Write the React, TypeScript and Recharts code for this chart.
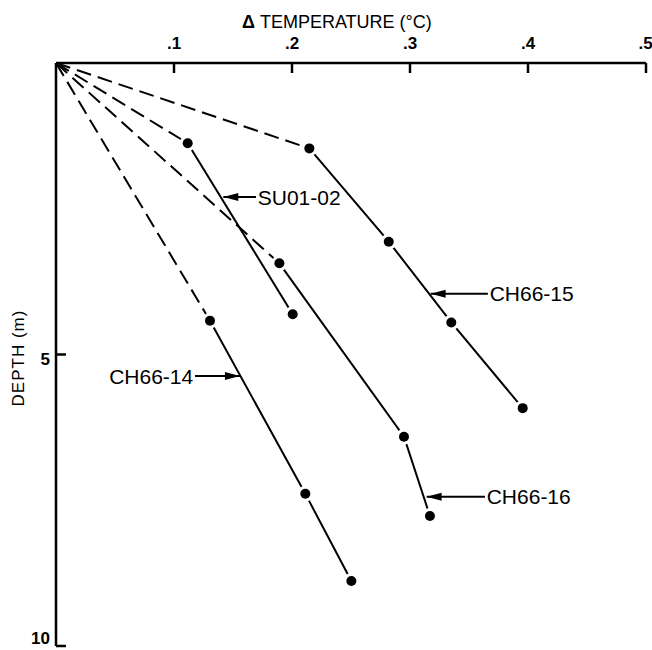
import React from "react";
import {
  ComposedChart,
  Line,
  XAxis,
  YAxis,
  ReferenceLine,
  ReferenceDot,
} from "recharts";

// borehole profiles: temperature change (°C) vs depth (m)
const ch6615X = [0.2147, 0.282, 0.335, 0.3955];
const ch6615Y = [1.465, 3.065, 4.45, 5.92];
const su0102X = [0.1116, 0.2006];
const su0102Y = [1.377, 4.31];
const ch6616X = [0.1893, 0.2949, 0.3169];
const ch6616Y = [3.436, 6.41, 7.77];
const ch6614X = [0.1305, 0.2113, 0.2503];
const ch6614Y = [4.42, 7.39, 8.885];

const xTicks = [0.1, 0.2, 0.3, 0.4, 0.5];
const yTicks = [5, 10];

// label, arrow tip (on the line), arrow tail / text start, depth
const labelNames = ["SU01-02", "CH66-15", "CH66-14", "CH66-16"];
const labelTipX = [0.1418, 0.3175, 0.1559, 0.3141];
const labelTailX = [0.1695, 0.366, 0.1178, 0.3635];
const labelY = [2.3, 3.96, 5.37, 7.44];

const series = [
  { name: "CH66-15", xs: ch6615X, ys: ch6615Y },
  { name: "SU01-02", xs: su0102X, ys: su0102Y },
  { name: "CH66-16", xs: ch6616X, ys: ch6616Y },
  { name: "CH66-14", xs: ch6614X, ys: ch6614Y },
].map((s) => {
  const pts = s.xs.map((x, i) => ({ x, y: s.ys[i] }));
  return { name: s.name, pts, dashed: [{ x: 0, y: 0 }, pts[0]] };
});

const FONT = "'Liberation Sans', Arial, Helvetica, sans-serif";

const renderDot = (p: any) => (
  <g key={`d-${p.index}-${p.cx}`}>
    <circle cx={p.cx} cy={p.cy} r={8} fill="#fff" />
    <circle cx={p.cx} cy={p.cy} r={5} fill="#000" />
  </g>
);

const arrowHead = (dir: number) => (p: any) => (
  <polygon
    points={`${p.cx},${p.cy} ${p.cx + dir * 15},${p.cy - 4} ${p.cx + dir * 15},${p.cy + 4}`}
    fill="#000"
  />
);

const labelText = (name: string, anchor: string) => (p: any) => (
  <text
    x={p.cx}
    y={p.cy}
    dy="0.36em"
    textAnchor={anchor}
    fontSize={21}
    fontFamily={FONT}
    fill="#000"
  >
    {name}
  </text>
);

// depth tick labels; the bottom one sits low against the page edge
const DepthTick = (p: any) => (
  <text
    x={p.x}
    y={p.y}
    dy={p.payload.value === 10 ? 3 : 10}
    textAnchor="end"
    fontSize={17}
    fontWeight="bold"
    fontFamily={FONT}
    fill="#000"
  >
    {p.payload.value}
  </text>
);

export default function App() {
  return (
    <div
      style={{
        position: "absolute",
        left: 0,
        top: 0,
        width: 652,
        height: 650,
        background: "#fff",
        fontFamily: FONT,
      }}
    >
      <div
        style={{
          position: "absolute",
          left: 242,
          top: 12,
          fontSize: 18,
          whiteSpace: "nowrap",
          color: "#000",
        }}
      >
        <b>Δ</b> TEMPERATURE (°C)
      </div>
      <div
        style={{
          position: "absolute",
          left: 19,
          top: 358,
          fontSize: 17,
          letterSpacing: 1,
          whiteSpace: "nowrap",
          transform: "translate(-50%, -50%) rotate(-90deg)",
          color: "#000",
        }}
      >
        DEPTH (m)
      </div>
      <ComposedChart
        width={652}
        height={650}
        margin={{ top: 33, right: 6, left: 16, bottom: 4 }}
      >
        <XAxis
          dataKey="x"
          type="number"
          orientation="top"
          height={30}
          domain={[0, 0.5]}
          ticks={xTicks}
          tickFormatter={(v: number) => "." + Math.round(v * 10)}
          tickSize={-10}
          tickMargin={24}
          axisLine={{ stroke: "#000", strokeWidth: 2.5 }}
          tickLine={{ stroke: "#000", strokeWidth: 2.5 }}
          tick={{ fill: "#000", fontSize: 17, fontWeight: "bold", fontFamily: FONT }}
          allowDataOverflow
        />
        <YAxis
          dataKey="y"
          type="number"
          width={40}
          domain={[0, 10]}
          reversed
          ticks={yTicks}
          tickSize={-10}
          tickMargin={16}
          axisLine={{ stroke: "#000", strokeWidth: 2.5 }}
          tickLine={{ stroke: "#000", strokeWidth: 2.5 }}
          tick={<DepthTick />}
          allowDataOverflow
        />
        {series.map((s) => (
          <Line
            key={s.name + "-d"}
            data={s.dashed}
            dataKey="y"
            type="linear"
            stroke="#000"
            strokeWidth={2}
            strokeDasharray="15 7"
            dot={false}
            activeDot={false}
            isAnimationActive={false}
          />
        ))}
        {series.map((s) => (
          <Line
            key={s.name + "-s"}
            data={s.pts}
            dataKey="y"
            type="linear"
            stroke="#000"
            strokeWidth={2}
            dot={renderDot}
            activeDot={false}
            isAnimationActive={false}
          />
        ))}
        {labelNames.map((name, i) => (
          <ReferenceLine
            key={name + "-a"}
            segment={[
              { x: labelTipX[i], y: labelY[i] },
              { x: labelTailX[i], y: labelY[i] },
            ]}
            stroke="#000"
            strokeWidth={2}
          />
        ))}
        {labelNames.map((name, i) => {
          const dir = labelTailX[i] > labelTipX[i] ? 1 : -1;
          return (
            <ReferenceDot
              key={name + "-h"}
              x={labelTipX[i]}
              y={labelY[i]}
              r={1}
              shape={arrowHead(dir)}
            />
          );
        })}
        {labelNames.map((name, i) => {
          const dir = labelTailX[i] > labelTipX[i] ? 1 : -1;
          return (
            <ReferenceDot
              key={name + "-t"}
              x={labelTailX[i] + dir * 0.0015}
              y={labelY[i]}
              r={1}
              shape={labelText(name, dir > 0 ? "start" : "end")}
            />
          );
        })}
      </ComposedChart>
    </div>
  );
}
